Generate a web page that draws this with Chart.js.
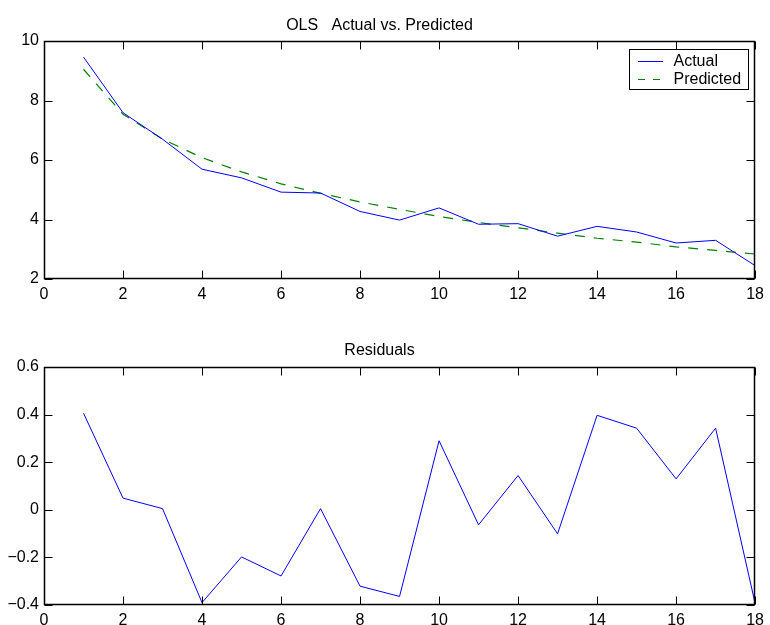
<!DOCTYPE html>
<html>
<head>
<meta charset="utf-8">
<script src="https://cdn.jsdelivr.net/npm/chart.js@4.4.1/dist/chart.umd.min.js"></script>
<style>
    html, body { margin: 0; padding: 0; background: #fff; }
    #wrap { position: relative; width: 770px; height: 625px; }
    .pane { position: absolute; left: 0; width: 770px; }
    #top-pane { top: 0; height: 312px; }
    #bottom-pane { top: 312px; height: 313px; }
</style>
</head>
<body>
<div id="wrap">
    <div class="pane" id="top-pane"><canvas id="fit-chart" width="770" height="312"></canvas></div>
    <div class="pane" id="bottom-pane"><canvas id="resid-chart" width="770" height="313"></canvas></div>
</div>
<script>
const periods = [1, 2, 3, 4, 5, 6, 7, 8, 9, 10, 11, 12, 13, 14, 15, 16, 17, 18];
const actual = [9.46, 7.59, 6.70, 5.69, 5.40, 4.92, 4.89, 4.27, 3.98, 4.39, 3.84, 3.86, 3.44, 3.77, 3.58, 3.21, 3.30, 2.45];
const predicted = [9.05, 7.54, 6.70, 6.08, 5.60, 5.20, 4.88, 4.59, 4.34, 4.10, 3.90, 3.72, 3.54, 3.37, 3.24, 3.08, 2.96, 2.84];
const residuals = [0.406, 0.049, 0.005, -0.390, -0.198, -0.278, 0.005, -0.321, -0.364, 0.290, -0.063, 0.144, -0.101, 0.397, 0.343, 0.130, 0.343, -0.393];

const xTicks = [0, 2, 4, 6, 8, 10, 12, 14, 16, 18];
const fitTicks = [2, 4, 6, 8, 10];
const fitTickLabels = ["2", "4", "6", "8", "10"];
const residTicks = [-0.4, -0.2, 0, 0.2, 0.4, 0.6];
const residTickLabels = ["\u22120.4", "\u22120.2", "0", "0.2", "0.4", "0.6"];

const FAMILY = '"Liberation Sans", Arial, Helvetica, sans-serif';
const font = { family: FAMILY, size: 16 };

// matlab style box with inward ticks on all four sides
const framePlugin = {
    id: "frame",
    afterDraw(chart) {
        const { ctx, chartArea: a } = chart;
        const xs = chart.scales.x, ys = chart.scales.y;
        const L = Math.round(a.left) + 0.5;
        const R = Math.round(a.right) - 0.5;
        const T = Math.round(a.top) + 0.5;
        const B = Math.round(a.bottom) - 0.5;
        const len = 8;
        ctx.save();
        ctx.setLineDash([]);
        ctx.strokeStyle = "#000";
        ctx.lineWidth = 1;
        ctx.beginPath();
        xTicks.forEach((v) => {
            const px = Math.round(xs.getPixelForValue(v)) + 0.5;
            ctx.moveTo(px, T);
            ctx.lineTo(px, T + len);
            ctx.moveTo(px, B);
            ctx.lineTo(px, B - len);
        });
        ys.ticks.forEach((t) => {
            const py = Math.round(ys.getPixelForValue(t.value)) + 0.5;
            ctx.moveTo(L, py);
            ctx.lineTo(L + len, py);
            ctx.moveTo(R, py);
            ctx.lineTo(R - len, py);
        });
        ctx.stroke();
        ctx.lineWidth = 1.5;
        ctx.strokeRect(L, T, R - L, B - T);
        ctx.restore();
    },
};

const legendBox = {
    id: "legendBox",
    afterDraw(chart) {
        const { ctx, chartArea: a } = chart;
        const sets = chart.data.datasets;
        ctx.save();
        ctx.font = `16px ${FAMILY}`;
        const textW = Math.max(...sets.map((d) => ctx.measureText(d.label).width));
        const rowH = 18.7, lineW = 25, padL = 8.5, gap = 10.5, padR = 7;
        const w = Math.round(padL + lineW + gap + textW + padR);
        const h = Math.round(sets.length * rowH + 3);
        const x0 = Math.round(a.right - 7 - w) + 0.5;
        const y0 = Math.round(a.top + 8) + 0.5;
        ctx.fillStyle = "#fff";
        ctx.fillRect(x0, y0, w, h);
        ctx.strokeStyle = "#000";
        ctx.lineWidth = 1;
        ctx.strokeRect(x0, y0, w, h);
        sets.forEach((d, i) => {
            const cy = Math.round(y0 + 11 + i * rowH) + 0.5;
            ctx.strokeStyle = d.borderColor;
            ctx.lineWidth = d.borderWidth;
            ctx.setLineDash(d.borderDash ? [7, 8] : []);
            ctx.beginPath();
            ctx.moveTo(x0 + padL, cy);
            ctx.lineTo(x0 + padL + lineW, cy);
            ctx.stroke();
            ctx.setLineDash([]);
            ctx.fillStyle = "#000";
            ctx.textBaseline = "middle";
            ctx.fillText(d.label, x0 + padL + lineW + gap, cy);
        });
        ctx.restore();
    },
};

function makeScales(yTicks, yLabels, xHeight) {
    return {
        x: {
            type: "linear",
            min: 0,
            max: 18,
            afterBuildTicks: (s) => { s.ticks = xTicks.map((v) => ({ value: v })); },
            afterFit: (s) => { s.height = xHeight; },
            grid: { display: false, drawTicks: false },
            border: { display: false },
            ticks: { color: "#000", font, padding: 6, maxRotation: 0, autoSkip: false },
        },
        y: {
            type: "linear",
            min: yTicks[0],
            max: yTicks[yTicks.length - 1],
            afterBuildTicks: (s) => { s.ticks = yTicks.map((v) => ({ value: v })); },
            afterFit: (s) => { s.width = 44; },
            grid: { display: false, drawTicks: false },
            border: { display: false },
            ticks: {
                color: "#000",
                font,
                padding: 5,
                autoSkip: false,
                callback: (v, i) => yLabels[i],
            },
        },
    };
}

function makeTitle(text, top, bottom) {
    return {
        display: true,
        text,
        color: "#000",
        font: { family: FAMILY, size: 16, weight: "normal", lineHeight: 1.25 },
        padding: { top, bottom },
    };
}

const toPoints = (ys) => periods.map((x, i) => ({ x, y: ys[i] }));

new Chart(document.getElementById("fit-chart"), {
    type: "line",
    data: {
        datasets: [
            {
                label: "Actual",
                data: toPoints(actual),
                borderColor: "#0000ff",
                borderWidth: 1,
                pointRadius: 0,
                fill: false,
                tension: 0,
            },
            {
                label: "Predicted",
                data: toPoints(predicted),
                borderColor: "#008000",
                borderWidth: 1.2,
                borderDash: [10, 9],
                pointRadius: 0,
                fill: false,
                tension: 0,
            },
        ],
    },
    options: {
        responsive: false,
        animation: false,
        layout: { padding: { left: 0, right: 11, top: 0, bottom: 0 } },
        scales: makeScales(fitTicks, fitTickLabels, 33),
        plugins: {
            legend: { display: false },
            tooltip: { enabled: false },
            title: makeTitle("OLS   Actual vs. Predicted", 16, 5),
        },
    },
    plugins: [framePlugin, legendBox],
});

new Chart(document.getElementById("resid-chart"), {
    type: "line",
    data: {
        datasets: [
            {
                label: "Residuals",
                data: toPoints(residuals),
                borderColor: "#0000ff",
                borderWidth: 1,
                pointRadius: 0,
                fill: false,
                tension: 0,
            },
        ],
    },
    options: {
        responsive: false,
        animation: false,
        layout: { padding: { left: 0, right: 11, top: 0, bottom: 0 } },
        scales: makeScales(residTicks, residTickLabels, 20),
        plugins: {
            legend: { display: false },
            tooltip: { enabled: false },
            title: makeTitle("Residuals", 29, 6),
        },
    },
    plugins: [framePlugin],
});
</script>
</body>
</html>
